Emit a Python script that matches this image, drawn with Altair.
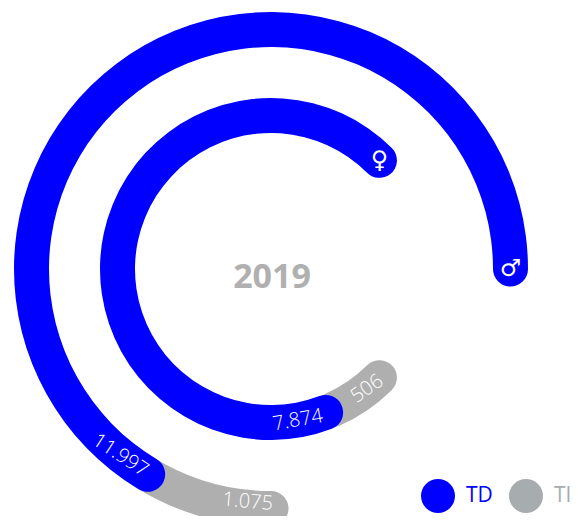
import math
import numpy as np
import pandas as pd
import altair as alt

rings = ["male", "female"]
td_values = [11997, 7874]
ti_values = [1075, 506]
td_labels = ["11.997", "7.874"]
ti_labels = ["1.075", "506"]
symbols = ["♂", "♀"]
year = "2019"
series = ["TD", "TI"]

BLUE = "#0000ff"
GRAY = "#afafaf"
LEGEND_GRAY = "#a7acaf"
CX, CY = 263, 261

# angular calibration per ring: degrees (clockwise from 12 o'clock) at value 0, TD, TD+TI
sweep = {"male": (94.2, -153.2, -184.2), "female": (51.5, -207.4, -231.5)}
radii = {"male": (222, 257), "female": (136, 171)}
td_label_pos = {"male": 0.951, "female": 0.933}
ti_label_pos = {"male": 0.68, "female": 0.47}
sym_pos = {"male": 0.017, "female": 0.025}
label_rot = {"11.997": 33, "7.874": 350, "1.075": 5, "506": 325}
label_r = {"1.075": 234}


def deg(ring, v, td, ti):
    return float(np.interp(v, [0, td, td + ti], sweep[ring]))


arc_rows, label_rows, sym_rows = [], [], []
for ring, td, ti, tdl, til, s in zip(rings, td_values, ti_values, td_labels, ti_labels, symbols):
    arc_rows.append(dict(ring=ring, series="TD", a=deg(ring, 0, td, ti), b=deg(ring, td, td, ti)))
    arc_rows.append(dict(ring=ring, series="TI", a=deg(ring, td * 0.96, td, ti), b=deg(ring, td + ti, td, ti)))
    r = sum(radii[ring]) / 2
    label_rows.append(dict(ring=ring, t=tdl, a=deg(ring, td * td_label_pos[ring], td, ti), r=label_r.get(tdl, r)))
    label_rows.append(dict(ring=ring, t=til, a=deg(ring, td + ti * ti_label_pos[ring], td, ti), r=label_r.get(til, r)))
    sym_rows.append(dict(ring=ring, t=s, a=deg(ring, td * sym_pos[ring], td, ti), r=r))

arcs = pd.DataFrame(arc_rows)
labels = pd.DataFrame(label_rows)
syms = pd.DataFrame(sym_rows)

theta_scale = alt.Scale(domain=[-360, 360], range=[-2 * math.pi, 2 * math.pi])
cx, cy = alt.value(CX), alt.value(CY)


def ring_layer(ring):
    inner, outer = radii[ring]
    base = alt.Chart(arcs[arcs.ring == ring]).mark_arc(
        innerRadius=inner, outerRadius=outer, cornerRadius=(outer - inner) / 2
    )
    enc = dict(
        theta=alt.Theta("a:Q", scale=theta_scale, stack=None),
        theta2=alt.Theta2("b:Q"),
        x=cx,
        y=cy,
    )
    gray = base.transform_filter("datum.series == 'TI'").encode(color=alt.value(GRAY), **enc)
    blue = base.transform_filter("datum.series == 'TD'").encode(
        color=alt.Color(
            "series:N",
            scale=alt.Scale(domain=series, range=[BLUE, LEGEND_GRAY]),
            legend=alt.Legend(
                title=None,
                orient="none",
                direction="horizontal",
                legendX=413,
                legendY=471,
                padding=0,
                symbolSize=1156,
                symbolType="circle",
                symbolStrokeWidth=0,
                labelFont="Open Sans",
                labelFontSize=21,
                labelOffset=11,
                columnPadding=16,
                labelColor=alt.ExprRef(f"datum.label == 'TD' ? '{BLUE}' : '{LEGEND_GRAY}'"),
            ),
        ),
        **enc,
    )
    return [gray, blue]


def text_layer(df, angle, size, font="Open Sans", weight=300):
    return alt.Chart(df).mark_text(
        font=font, fontSize=size, fontWeight=weight, color="white", angle=angle, align="center", baseline="middle",
        radius=float(df.r.iloc[0]),
    ).encode(theta=alt.Theta("a:Q", scale=theta_scale, stack=None), text="t:N", x=cx, y=cy)


layers = ring_layer("male") + ring_layer("female")
for _, row in labels.iterrows():
    layers.append(text_layer(labels[labels.t == row.t], label_rot[row.t], 20))
for _, row in syms.iterrows():
    layers.append(text_layer(syms[syms.t == row.t], 0, 24, "DejaVu Sans", 400))

center = alt.Chart(pd.DataFrame({"t": [year]})).mark_text(
    font="Open Sans", fontSize=34, fontWeight="bold", color="#b0b0b0", align="center", baseline="middle"
).encode(text="t:N", x=alt.value(CX + 1), y=alt.value(CY + 9))
layers.append(center)

chart = alt.layer(*layers).properties(
    width=569, height=508, padding=0, autosize="none"
).configure_view(stroke=None)

chart.save("out.html", embed_options={"renderer": "svg", "actions": False})
